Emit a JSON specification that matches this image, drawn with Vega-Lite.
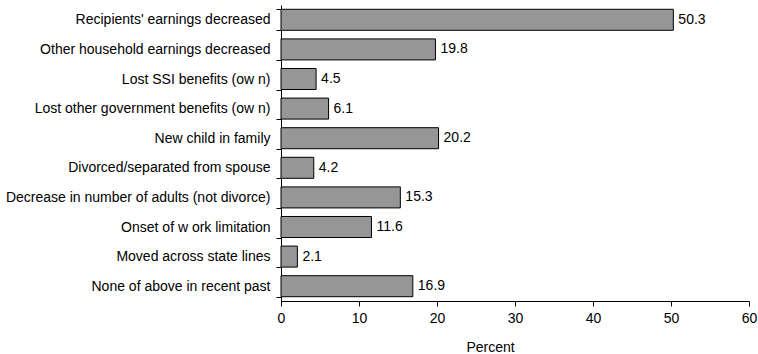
{
  "$schema": "https://vega.github.io/schema/vega-lite/v6.json",
  "width": 468,
  "height": 296,
  "autosize": {"type": "none"},
  "padding": {"left": 281, "top": 5, "right": 9, "bottom": 53},
  "background": "#ffffff",
  "config": {
    "view": {"stroke": null},
    "font": "Liberation Sans",
    "axis": {"labelFont": "Liberation Sans", "titleFont": "Liberation Sans", "labelColor": "#000000", "titleColor": "#000000", "domainColor": "#000000", "tickColor": "#000000", "grid": false, "labelFontSize": 14, "titleFontSize": 14, "titleFontWeight": "normal"}
  },
  "data": {
    "values": [
      {"cat": "Recipients' earnings decreased", "v": 50.3},
      {"cat": "Other household earnings decreased", "v": 19.8},
      {"cat": "Lost SSI benefits (ow n)", "v": 4.5},
      {"cat": "Lost other government benefits (ow n)", "v": 6.1},
      {"cat": "New child in family", "v": 20.2},
      {"cat": "Divorced/separated from spouse", "v": 4.2},
      {"cat": "Decrease in number of adults (not divorce)", "v": 15.3},
      {"cat": "Onset of w ork limitation", "v": 11.6},
      {"cat": "Moved across state lines", "v": 2.1},
      {"cat": "None of above in recent past", "v": 16.9}
    ]
  },
  "encoding": {
    "y": {
      "field": "cat", "type": "nominal", "sort": null,
      "scale": {"paddingInner": 0.29, "paddingOuter": 0.145},
      "axis": {"title": null, "tickBand": "extent", "tickSize": 5, "labelPadding": 6, "labelLimit": 300}
    },
    "x": {
      "field": "v", "type": "quantitative",
      "scale": {"domain": [0, 60], "nice": false},
      "axis": {"title": "Percent", "values": [0, 10, 20, 30, 40, 50, 60], "tickSize": 5, "labelPadding": 5, "labelFlush": false, "titleX": 209, "titleY": 50, "titleAlign": "center", "titleBaseline": "alphabetic"}
    }
  },
  "layer": [
    {"mark": {"type": "bar", "fill": "#969696", "stroke": "#000000", "strokeWidth": 1}},
    {"mark": {"type": "text", "align": "left", "baseline": "middle", "dx": 5, "fontSize": 14, "color": "#000000"}, "encoding": {"text": {"field": "v", "type": "quantitative", "format": ".1f"}}}
  ]
}
